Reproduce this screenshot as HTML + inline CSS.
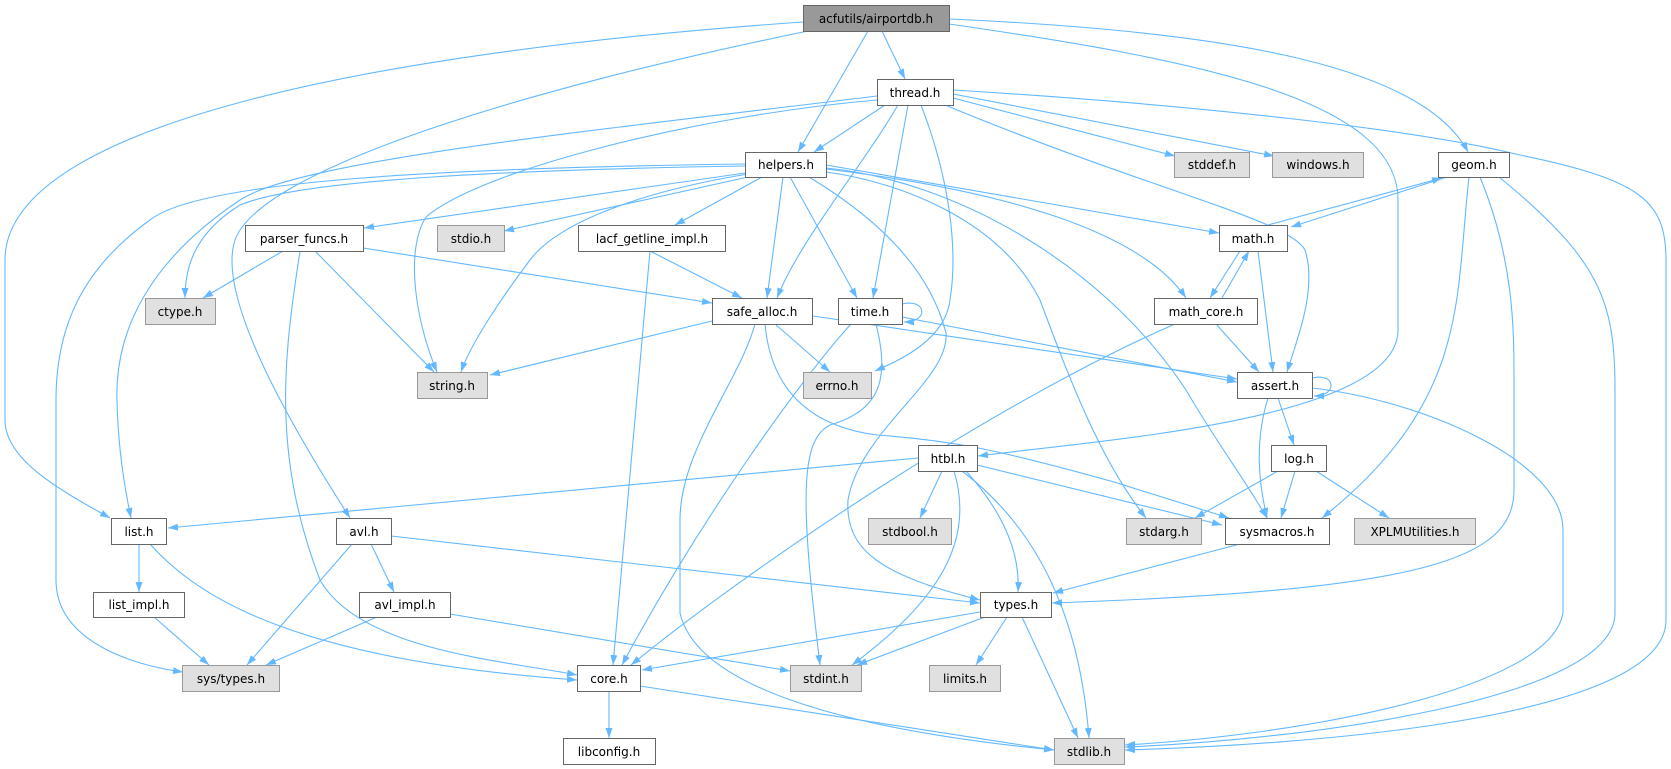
<!DOCTYPE html>
<html><head><meta charset="utf-8"><style>
html,body{margin:0;padding:0;background:#fff;}
svg{display:block;}
text{font-family:"DejaVu Sans","Liberation Sans",sans-serif;font-size:12px;fill:#000;}
.e{fill:none;stroke:#63b8ff;stroke-width:1.1;}
</style></head><body>
<svg width="1671" height="769" viewBox="0 0 1671 769" xmlns="http://www.w3.org/2000/svg">
<defs><marker id="a" markerUnits="userSpaceOnUse" markerWidth="11" markerHeight="8" refX="10" refY="3.5" orient="auto"><path d="M0,0 L10,3.5 L0,7 z" fill="#63b8ff"/></marker></defs>
<g marker-end="url(#a)">
<!-- airportdb -->
<path class="e" d="M803,22 C400,50 5,120 5,260 L5,420 C5,460 60,490 110,518"/>
<path class="e" d="M808,31 C520,90 260,170 235,240 C215,300 300,440 350,518"/>
<path class="e" d="M868,31 L798,152"/>
<path class="e" d="M882,31 L905,79"/>
<path class="e" d="M949,19 C1200,30 1420,60 1468,152"/>
<path class="e" d="M949,24 C1200,60 1398,100 1398,200 L1398,330 C1398,420 1100,440 978,456"/>
<!-- thread -->
<path class="e" d="M885,105 L814,152"/>
<path class="e" d="M877,96 C600,130 300,160 240,200 C150,260 115,330 117,400 C118,450 125,490 131,518"/>
<path class="e" d="M877,100 C700,115 480,170 426,217 C405,250 415,320 437,372"/>
<path class="e" d="M898,105 C860,170 800,240 777,298"/>
<path class="e" d="M908,105 L873,298"/>
<path class="e" d="M921,105 C950,180 958,250 950,300 C945,340 900,360 875,371"/>
<path class="e" d="M945,105 C1150,190 1290,220 1305,250 C1318,290 1295,345 1287,372"/>
<path class="e" d="M953,98 L1175,156"/>
<path class="e" d="M953,94 L1274,156"/>
<path class="e" d="M953,90 C1200,105 1420,130 1520,155 C1640,180 1666,200 1666,260 L1666,620 C1666,720 1300,745 1125,750"/>
<!-- helpers -->
<path class="e" d="M745,173 L364,228"/>
<path class="e" d="M748,177 L504,231"/>
<path class="e" d="M762,177 L675,225"/>
<path class="e" d="M745,166 C500,170 300,180 240,205 C200,230 185,260 185,298"/>
<path class="e" d="M745,164 C450,168 200,180 150,220 C80,270 56,330 56,400 L56,580 C56,640 130,665 183,672"/>
<path class="e" d="M748,174 C650,190 560,220 530,260 C500,300 470,345 461,372"/>
<path class="e" d="M783,177 L767,298"/>
<path class="e" d="M790,177 L857,298"/>
<path class="e" d="M809,177 C880,220 930,270 946,333 C950,380 860,430 848,500 C845,550 880,575 980,600"/>
<path class="e" d="M826,172 C900,182 1000,220 1040,300 C1070,380 1100,460 1146,518"/>
<path class="e" d="M826,168 C950,180 1100,260 1186,390 C1215,440 1245,480 1267,518"/>
<path class="e" d="M826,165 L1219,233"/>
<path class="e" d="M826,169 C1000,190 1140,230 1186,298"/>
<!-- parser -->
<path class="e" d="M283,251 L203,298"/>
<path class="e" d="M300,251 C285,350 270,450 320,580 C360,650 500,660 577,675"/>
<path class="e" d="M315,251 L434,372"/>
<path class="e" d="M363,248 L712,303"/>
<!-- lacf -->
<path class="e" d="M650,251 L742,298"/>
<path class="e" d="M650,251 L613,665"/>
<!-- safe_alloc -->
<path class="e" d="M712,321 L490,375"/>
<path class="e" d="M775,324 L830,372"/>
<path class="e" d="M813,316 L1237,379"/>
<path class="e" d="M755,324 C740,380 680,450 680,520 L680,613 C700,700 900,735 1054,750"/>
<path class="e" d="M765,324 C770,380 800,425 877,435 C950,440 1000,450 1114,482 L1229,518"/>
<!-- time -->
<path class="e" d="M902,304 C926,298 930,322 904,322"/>
<path class="e" d="M902,317 L1237,382"/>
<path class="e" d="M851,324 C800,380 700,520 622,665"/>
<path class="e" d="M876,324 C890,380 880,410 830,425 C800,440 800,500 820,665"/>
<!-- math / geom / math_core -->
<path class="e" d="M1268,225 L1442,178"/>
<path class="e" d="M1447,177 L1291,227"/>
<path class="e" d="M1240,251 L1210,298"/>
<path class="e" d="M1222,298 L1249,251"/>
<path class="e" d="M1258,251 L1273,372"/>
<path class="e" d="M1216,324 L1259,372"/>
<path class="e" d="M1175,324 C1000,400 760,560 631,665"/>
<path class="e" d="M1469,177 C1455,300 1470,400 1322,518"/>
<path class="e" d="M1480,177 C1514,260 1514,330 1514,380 L1514,490 C1514,560 1423,590 1052,603"/>
<path class="e" d="M1499,177 C1600,260 1615,300 1615,390 L1615,613 C1615,700 1300,740 1125,747"/>
<!-- assert -->
<path class="e" d="M1312,378 C1336,372 1338,396 1314,396"/>
<path class="e" d="M1278,398 L1294,445"/>
<path class="e" d="M1268,398 C1255,440 1258,480 1267,518"/>
<path class="e" d="M1312,388 C1420,400 1563,460 1563,530 L1563,613 C1550,690 1300,735 1125,745"/>
<!-- log -->
<path class="e" d="M1278,471 L1195,518"/>
<path class="e" d="M1295,471 L1281,518"/>
<path class="e" d="M1316,471 L1389,518"/>
<!-- htbl -->
<path class="e" d="M918,458 L168,528"/>
<path class="e" d="M942,471 L920,518"/>
<path class="e" d="M977,465 L1222,525"/>
<path class="e" d="M966,471 C1010,520 1020,560 1018,592"/>
<path class="e" d="M954,471 C975,540 940,600 852,665"/>
<path class="e" d="M962,471 C1040,530 1080,620 1089,738"/>
<!-- sysmacros -->
<path class="e" d="M1240,544 L1053,593"/>
<!-- types -->
<path class="e" d="M980,612 L642,670"/>
<path class="e" d="M985,617 L857,665"/>
<path class="e" d="M1007,617 L976,665"/>
<path class="e" d="M1022,617 L1078,738"/>
<!-- list / avl -->
<path class="e" d="M139,544 L139,592"/>
<path class="e" d="M150,544 C200,600 300,660 577,680"/>
<path class="e" d="M352,544 L247,665"/>
<path class="e" d="M371,544 L394,592"/>
<path class="e" d="M391,536 L980,603"/>
<path class="e" d="M154,617 L209,665"/>
<path class="e" d="M377,617 L266,665"/>
<path class="e" d="M450,614 L790,671"/>
<!-- core -->
<path class="e" d="M609,691 L609,738"/>
<path class="e" d="M640,686 L1054,750"/>
</g>
<g stroke-width="1">
<rect x="803.5" y="5.5" width="146" height="26" fill="#999" stroke="#666"/><text x="876" y="23" text-anchor="middle">acfutils/airportdb.h</text>
<rect x="877.5" y="79.5" width="76" height="26" fill="#fff" stroke="#666"/><text x="915" y="97" text-anchor="middle">thread.h</text>
<rect x="745.5" y="152.5" width="81" height="25" fill="#fff" stroke="#666"/><text x="786" y="169" text-anchor="middle">helpers.h</text>
<rect x="1174.5" y="152.5" width="75" height="25" fill="#e0e0e0" stroke="#999"/><text x="1212" y="169" text-anchor="middle">stddef.h</text>
<rect x="1272.5" y="152.5" width="91" height="25" fill="#e0e0e0" stroke="#999"/><text x="1318" y="169" text-anchor="middle">windows.h</text>
<rect x="1438.5" y="152.5" width="71" height="25" fill="#fff" stroke="#666"/><text x="1474" y="169" text-anchor="middle">geom.h</text>
<rect x="245.5" y="225.5" width="118" height="26" fill="#fff" stroke="#666"/><text x="304" y="243" text-anchor="middle">parser_funcs.h</text>
<rect x="437.5" y="225.5" width="67" height="26" fill="#e0e0e0" stroke="#999"/><text x="471" y="243" text-anchor="middle">stdio.h</text>
<rect x="578.5" y="225.5" width="147" height="26" fill="#fff" stroke="#666"/><text x="652" y="243" text-anchor="middle">lacf_getline_impl.h</text>
<rect x="1219.5" y="225.5" width="68" height="26" fill="#fff" stroke="#666"/><text x="1253" y="243" text-anchor="middle">math.h</text>
<rect x="145.5" y="298.5" width="70" height="26" fill="#e0e0e0" stroke="#999"/><text x="180" y="316" text-anchor="middle">ctype.h</text>
<rect x="712.5" y="298.5" width="100" height="26" fill="#fff" stroke="#666"/><text x="762" y="316" text-anchor="middle">safe_alloc.h</text>
<rect x="838.5" y="298.5" width="64" height="26" fill="#fff" stroke="#666"/><text x="870" y="316" text-anchor="middle">time.h</text>
<rect x="1154.5" y="298.5" width="103" height="26" fill="#fff" stroke="#666"/><text x="1206" y="316" text-anchor="middle">math_core.h</text>
<rect x="417.5" y="372.5" width="70" height="26" fill="#e0e0e0" stroke="#999"/><text x="452" y="390" text-anchor="middle">string.h</text>
<rect x="803.5" y="372.5" width="68" height="26" fill="#e0e0e0" stroke="#999"/><text x="837" y="390" text-anchor="middle">errno.h</text>
<rect x="1237.5" y="372.5" width="75" height="26" fill="#fff" stroke="#666"/><text x="1275" y="390" text-anchor="middle">assert.h</text>
<rect x="918.5" y="445.5" width="59" height="26" fill="#fff" stroke="#666"/><text x="948" y="463" text-anchor="middle">htbl.h</text>
<rect x="1271.5" y="445.5" width="55" height="26" fill="#fff" stroke="#666"/><text x="1299" y="463" text-anchor="middle">log.h</text>
<rect x="111.5" y="518.5" width="55" height="26" fill="#fff" stroke="#666"/><text x="139" y="536" text-anchor="middle">list.h</text>
<rect x="336.5" y="518.5" width="55" height="26" fill="#fff" stroke="#666"/><text x="364" y="536" text-anchor="middle">avl.h</text>
<rect x="868.5" y="518.5" width="83" height="26" fill="#e0e0e0" stroke="#999"/><text x="910" y="536" text-anchor="middle">stdbool.h</text>
<rect x="1126.5" y="518.5" width="75" height="26" fill="#e0e0e0" stroke="#999"/><text x="1164" y="536" text-anchor="middle">stdarg.h</text>
<rect x="1225.5" y="518.5" width="104" height="26" fill="#fff" stroke="#666"/><text x="1277" y="536" text-anchor="middle">sysmacros.h</text>
<rect x="1354.5" y="518.5" width="121" height="26" fill="#e0e0e0" stroke="#999"/><text x="1415" y="536" text-anchor="middle">XPLMUtilities.h</text>
<rect x="93.5" y="592.5" width="91" height="25" fill="#fff" stroke="#666"/><text x="139" y="609" text-anchor="middle">list_impl.h</text>
<rect x="359.5" y="592.5" width="91" height="25" fill="#fff" stroke="#666"/><text x="405" y="609" text-anchor="middle">avl_impl.h</text>
<rect x="980.5" y="592.5" width="71" height="25" fill="#fff" stroke="#666"/><text x="1016" y="609" text-anchor="middle">types.h</text>
<rect x="182.5" y="665.5" width="97" height="26" fill="#e0e0e0" stroke="#999"/><text x="231" y="683" text-anchor="middle">sys/types.h</text>
<rect x="577.5" y="665.5" width="63" height="26" fill="#fff" stroke="#666"/><text x="609" y="683" text-anchor="middle">core.h</text>
<rect x="790.5" y="665.5" width="71" height="26" fill="#e0e0e0" stroke="#999"/><text x="826" y="683" text-anchor="middle">stdint.h</text>
<rect x="929.5" y="665.5" width="71" height="26" fill="#e0e0e0" stroke="#999"/><text x="965" y="683" text-anchor="middle">limits.h</text>
<rect x="563.5" y="738.5" width="92" height="26" fill="#fff" stroke="#666"/><text x="609" y="756" text-anchor="middle">libconfig.h</text>
<rect x="1054.5" y="738.5" width="70" height="26" fill="#e0e0e0" stroke="#999"/><text x="1089" y="756" text-anchor="middle">stdlib.h</text>
</g>
</svg>
</body></html>
